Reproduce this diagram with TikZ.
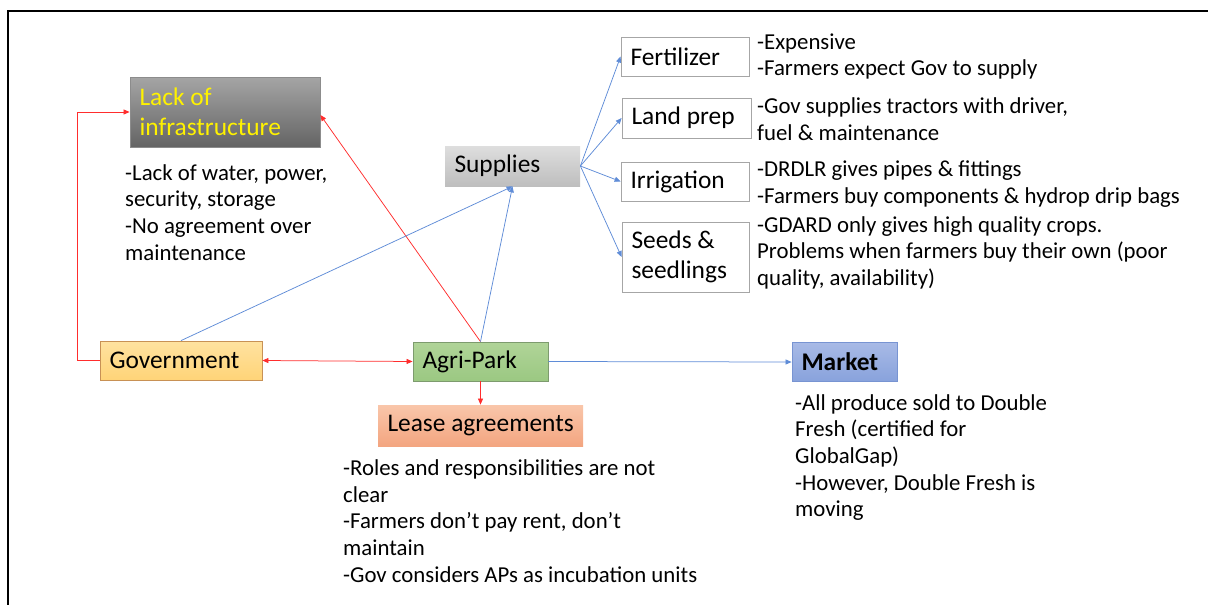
\documentclass[tikz,border=0pt]{standalone}
\usepackage{fontspec}
\setmainfont{Carlito}
\usetikzlibrary{arrows.meta}

\definecolor{linkred}{RGB}{255,45,45}
\definecolor{linkblue}{RGB}{95,140,215}
\definecolor{boxgray}{RGB}{166,166,166}

\newcommand{\labelfont}{\fontsize{25.4}{30.5}\selectfont}
\newcommand{\notefont}{\fontsize{22.8}{26.7}\selectfont}

\tikzset{
  box/.style={draw, line width=0.8pt, inner xsep=9.5pt, inner ysep=0pt,
    align=left, font=\labelfont,
    % keep the font's own word spacing in left-aligned boxes
    execute at begin node={\spaceskip=0pt\xspaceskip=0pt\relax}},
  % multi-line notes: the base anchor sits on the last line
  note/.style={anchor=base west, inner sep=0pt, align=left, font=\notefont},
  redlink/.style={draw=linkred, line width=0.75pt,
    -{Triangle[length=6pt,width=5pt]}},
  bluelink/.style={draw=linkblue, line width=0.75pt,
    -{Triangle[length=6pt,width=5pt]}},
}

\begin{document}
\begin{tikzpicture}[x=1pt,y=-1pt]
\useasboundingbox (0,0) rectangle (1208,605);

% frame
\draw[line width=2pt] (8.3,605) -- (8.3,11) -- (1208,11);

% boxes
\node[box, draw={rgb,255:red,140;green,140;blue,140}, top color={rgb,255:red,165;green,165;blue,165},
  bottom color={rgb,255:red,100;green,100;blue,100}, text=yellow,
  text width=171pt, minimum height=70pt] (lack) at (225,112) {Lack of\\infrastructure};
\node[box, draw=none, top color={rgb,255:red,222;green,222;blue,222},
  bottom color={rgb,255:red,190;green,190;blue,190},
  text width=116pt, minimum height=40pt] (supplies) at (512.5,166) {Supplies};

\node[box, draw=boxgray, fill=white, text width=109pt, minimum height=39pt] (fert) at (685,56.5) {Fertilizer};
\node[box, draw=boxgray, fill=white, text width=110pt, minimum height=40pt] (land) at (686.5,118) {\mbox{Land prep}};
\node[box, draw=boxgray, fill=white, text width=109pt, minimum height=39pt] (irr) at (685,181.5) {Irrigation};
\node[box, draw=boxgray, fill=white, text width=108pt, minimum height=70pt] (seeds) at (685.5,257) {\mbox{Seeds \&}\\seedlings};

\node[box, draw={rgb,255:red,200;green,145;blue,85}, top color={rgb,255:red,255;green,226;blue,160},
  bottom color={rgb,255:red,255;green,212;blue,120},
  text width=143pt, minimum height=39pt] (gov) at (181,360.5) {Government};
\node[box, draw={rgb,255:red,125;green,155;blue,110}, top color={rgb,255:red,176;green,212;blue,152},
  bottom color={rgb,255:red,155;green,200;blue,130},
  text width=116pt, minimum height=39pt] (agri) at (480.5,361.5) {Agri-Park};
\node[box, draw=none, top color={rgb,255:red,249;green,198;blue,170},
  bottom color={rgb,255:red,243;green,165;blue,128},
  text width=186pt, minimum height=41pt] (lease) at (480.5,425.5) {\mbox{Lease agreements}};
\node[box, draw={rgb,255:red,120;green,148;blue,210}, top color={rgb,255:red,168;green,186;blue,230},
  bottom color={rgb,255:red,136;green,162;blue,220}, font=\labelfont\bfseries,
  text width=86pt, minimum height=39pt] (market) at (844.5,362) {Market};

% notes (positioned on the baseline of their last line)
\node[note] (lacknote) at (125,260.1) {-Lack of water, power,\\security, storage\\-No agreement over\\maintenance};
\node[note] (fertnote) at (757,75.7) {-Expensive\\-Farmers expect Gov to supply};
\node[note] (landnote) at (757,140.2) {-Gov supplies tractors with driver,\\fuel \& maintenance};
\node[note] (irrnote) at (757,203.2) {-DRDLR gives pipes \& fittings\\-Farmers buy components \& hydrop drip bags};
\node[note] (seedsnote) at (757,285.4) {-GDARD only gives high quality crops.\\Problems when farmers buy their own (poor\\quality, availability)};
\node[note] (leasenote) at (343,582.3) {-Roles and responsibilities are not\\clear\\-Farmers don’t pay rent, don’t\\maintain\\-Gov considers APs as incubation units};
\node[note] (marketnote) at (795,516.8) {-All produce sold to Double\\Fresh (certified for\\GlobalGap)\\-However, Double Fresh is\\moving};

% connectors
\draw[redlink] (gov.west) -- ++(-22,0) |- (lack.west);
\draw[redlink] (agri.north) -- ([yshift=-3pt]lack.east);
\draw[bluelink] (agri.north) -- (supplies.south);
\draw[bluelink] (gov.north) -- (supplies.south);
\draw[redlink, {Triangle[length=6pt,width=5pt]}-{Triangle[length=6pt,width=5pt]}] (gov.east) -- (agri.west);
\draw[bluelink] (agri.east) -- (market.west);
\draw[redlink] (agri.south) -- (lease.north);
\draw[bluelink] (supplies.east) -- (fert.west);
\draw[bluelink] (supplies.east) -- (land.west);
\draw[bluelink] (supplies.east) -- (irr.west);
\draw[bluelink] (supplies.east) -- (seeds.west);
\end{tikzpicture}
\end{document}
